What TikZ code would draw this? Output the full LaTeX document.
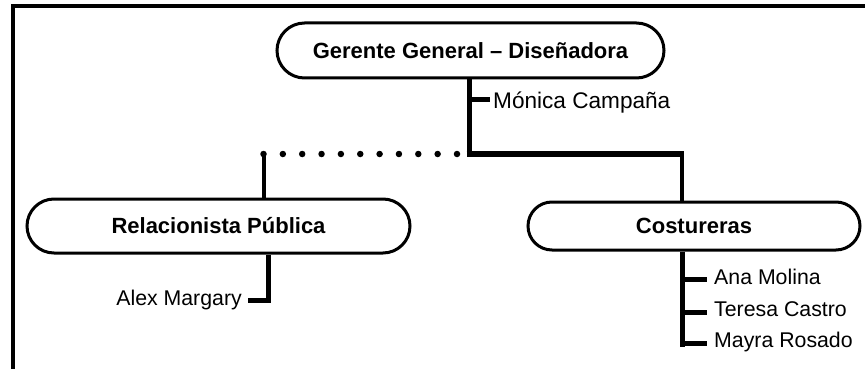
\documentclass[tikz,border=0pt]{standalone}
\usepackage{fontspec}
\setmainfont{Liberation Sans}
\usetikzlibrary{shapes.misc}

\tikzset{
  post/.style={rounded rectangle, draw, line width=3pt, inner sep=0pt,
    font=\fontsize{22}{26}\selectfont\bfseries},
  person/.style={inner sep=0pt, font=\fontsize{21.3}{25}\selectfont},
  frameline/.style={line width=4pt},
  trunk/.style={line width=5pt, line join=miter},
  wide/.style={line width=6pt},
  branch/.style={line width=4pt},
  tick/.style={line width=5pt},
  dotrow/.style={line width=6.5pt, line cap=round, dash pattern=on 0pt off 19.35pt}
}

\begin{document}
\begin{tikzpicture}[x=1pt, y=-1pt]
  \useasboundingbox (0,0) rectangle (865,369);

  % open frame: top and left sides
  \draw[frameline] (13,369) -- (13,6) -- (865,6);

  % positions
  \node[post, minimum width=387pt, minimum height=55pt] (gg) at (470.5,50.5)
    {Gerente General -- Diseñadora};
  \node[post, minimum width=383pt, minimum height=54pt] (rp) at (218.5,226)
    {Relacionista Pública};
  \node[post, minimum width=332pt, minimum height=48pt] (cos) at (694,226)
    {Costureras};

  % people
  \node[person, font=\fontsize{22.6}{26}\selectfont, anchor=base west] (mc) at (493,108) {Mónica Campaña};
  \node[person, anchor=base east] (am) at (242,305) {Alex Margary};
  \node[person, anchor=base west] (p1) at (714,284) {Ana Molina};
  \node[person, anchor=base west] (p2) at (714,316) {Teresa Castro};
  \node[person, anchor=base west] (p3) at (714,347) {Mayra Rosado};

  % junction points
  \coordinate (j1) at (469,154);
  \coordinate (j2) at (682,154);
  \coordinate (mt) at (469,99);
  \coordinate (dl) at (263.5,154);
  \coordinate (dr) at (457.5,154);
  \coordinate (ac) at (268,300);
  \coordinate (cb) at (682,347);
  \coordinate (t1) at (682,279);
  \coordinate (t2) at (682,312);
  \coordinate (t3) at (682,343);

  % main line down from the manager and across to the seamstresses
  \draw[trunk] (gg.south -| j1) -- (j1);
  \draw[wide] ([xshift=-2.5pt]j1) -- ([xshift=2pt]j2);
  \draw[branch] ([yshift=-3pt]j2) -- (cos.north -| j2);
  \draw[tick] (mt) -- ([xshift=-3pt]mt -| mc.west);

  % dotted advisory link to public relations
  \draw[dotrow] (dl) -- (dr);
  \draw[branch] (dl) -- (rp.north -| dl);

  % public relations member
  \draw[trunk] (rp.south -| ac) -- (ac) -- ([xshift=6pt]ac -| am.east);

  % seamstresses
  \draw[trunk] (cos.south -| cb) -- (cb);
  \draw[tick] (t1) -- ([xshift=-7pt]t1 -| p1.west);
  \draw[tick] (t2) -- ([xshift=-7pt]t2 -| p2.west);
  \draw[tick] (t3) -- ([xshift=-7pt]t3 -| p3.west);
\end{tikzpicture}
\end{document}
